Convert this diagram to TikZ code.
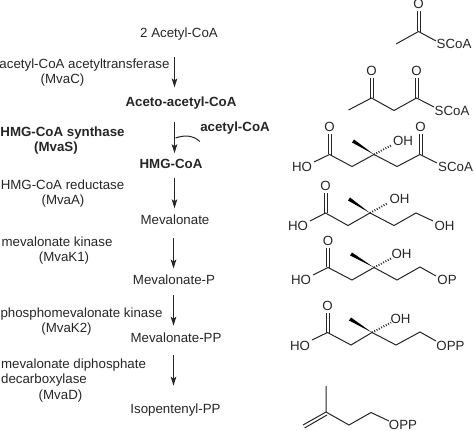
\documentclass[tikz,border=0pt]{standalone}
\usepackage{fontspec}
\setmainfont{Liberation Sans}
\usepackage{tikz}
\usetikzlibrary{positioning, arrows.meta}

\begin{document}
\begin{tikzpicture}[
        x=0.5pt, y=-0.5pt,
        met/.style={inner sep=0pt, text height=5.5pt, text depth=1.5pt, text=black!85, font=\fontsize{6.65}{8}\selectfont},
        metb/.style={met, font=\fontsize{6.65}{8}\selectfont\bfseries},
        enz/.style={met},
        enzb/.style={metb},
        atom/.style={met},
        bond/.style={line width=0.5pt, black!85},
        arrow/.style={-{Stealth[length=4.5pt, width=2.8pt, inset=1pt]}, line width=0.5pt, black!85},
        wedge/.style={fill=black, draw=none},
        hash/.style={line width=1pt, black!85, dash pattern=on 0.45pt off 0.85pt}
    ]
    \useasboundingbox (0,0) rectangle (474,431);

    % Metabolites down the middle
    \node[met] (m0) at (179,33.5) {2 Acetyl-CoA};
    \node[metb, below=27.25pt of m0, xshift=1pt] (m1) {Aceto-acetyl-CoA};
    \node[metb, below=23.5pt of m1, xshift=-5pt] (m2) {HMG-CoA};
    \node[met, below=20.65pt of m2, xshift=2pt] (m3) {Mevalonate};
    \node[met, below=22.7pt of m3, xshift=-0.5pt] (m4) {Mevalonate-P};
    \node[met, below=21.5pt of m4, xshift=1pt] (m5) {Mevalonate-PP};
    \node[met, below=27.8pt of m5, xshift=-0.25pt] (m6) {Isopentenyl-PP};
    \node[metb] (cofac) at (235,127.5) {acetyl-CoA};

    % Enzymes on the left
    \node[enz] (e1) at (84.5,64.5) {acetyl-CoA acetyltransferase};
    \node[enz, below=0.25pt of e1, xshift=-11pt] (e1b) {(MvaC)};
    \node[enzb] (e2) at (62.5,132.5) {HMG-CoA synthase};
    \node[enzb, below=0.25pt of e2, xshift=-3.25pt] (e2b) {(MvaS)};
    \node[enz] (e3) at (62.5,186) {HMG-CoA reductase};
    \node[enz, below=0pt of e3, xshift=0.25pt] (e3b) {(MvaA)};
    \node[enz] (e4) at (57,242.7) {mevalonate kinase};
    \node[enz, below=0.25pt of e4, xshift=3.5pt] (e4b) {(MvaK1)};
    \node[enz] (e5) at (81.5,313) {phosphomevalonate kinase};
    \node[enz, below=0.5pt of e5, xshift=-7.5pt] (e5b) {(MvaK2)};
    \node[enz] (e6) at (73.5,364.3) {mevalonate diphosphate};
    \node[enz, below=0.35pt of e6, xshift=-14.75pt] (e6b) {decarboxylase};
    \node[enz, below=0.5pt of e6b, xshift=8.25pt] (e6c) {(MvaD)};

    % Pathway arrows
    \coordinate (axisa) at (174.5,0);
    \coordinate (axisb) at (173.5,0);
    \draw[arrow, shorten <=8.25pt, shorten >=4pt] (m0.south -| axisa) -- (m1.north -| axisa);
    \draw[arrow, shorten <=6pt, shorten >=2pt] (m1.south -| axisa) -- (m2.north -| axisa);
    \draw[arrow, shorten <=3pt, shorten >=2.5pt] (m2.south -| axisa) -- (m3.north -| axisa);
    \draw[arrow, shorten <=5pt, shorten >=2.5pt] (m3.south -| axisb) -- (m4.north -| axisb);
    \draw[arrow, shorten <=3.5pt, shorten >=2.8pt] (m4.south -| axisb) -- (m5.north -| axisb);
    \draw[arrow, shorten <=4.5pt, shorten >=8pt] (m5.south -| axisb) -- (m6.north -| axisb);
    \coordinate (join) at (175.5,138);
    \draw[bond] ([yshift=-3.3pt]cofac.south west) .. controls (193,135) and (184,135) .. (join);

    % Acetyl-CoA
    \node[atom] (s1o) at (418.5,5) {O};
    \node[atom] (s1s) at (454,44.5) {SCoA};
    \draw[bond] (396,44) -- (418.5,31.5) -- (436,41);
    \draw[bond] (417,31.5) -- (417,11.5) (420,32) -- (420,11.5);

    % Aceto-acetyl-CoA
    \node[atom] (s2o) at (371.5,71.5) {O};
    \node[atom] (s2p) at (416.5,71.5) {O};
    \node[atom] (s2s) at (452,111.5) {SCoA};
    \draw[bond] (348.5,110) -- (371.5,98) -- (394,110.5) -- (416.5,98) -- (434,107);
    \draw[bond] (370,98) -- (370,78) (373,98.5) -- (373,78);
    \draw[bond] (415,98) -- (415,78) (418,98.5) -- (418,78);

    % HMG-CoA
    \node[atom] (s3o) at (329.5,128) {O};
    \node[atom] (s3p) at (420.5,128) {O};
    \node[atom] (s3h) at (302,168) {HO};
    \node[atom] (s3r) at (403,141.5) {OH};
    \node[atom] (s3s) at (455.5,168) {SCoA};
    \draw[bond] (314,162) -- (329.5,154.5) -- (352,166.5) -- (374,154.5) -- (397,166.5) -- (420,154.5) -- (437,163);
    \draw[bond] (328,154.5) -- (328,134.5) (331,155) -- (331,134.5);
    \draw[bond] (419,154.5) -- (419,134.5) (422,155) -- (422,134.5);
    \fill[wedge] (374,154.5) -- (354,139.5) -- (352,142.5) -- cycle;
    \draw[hash] (374,154.5) -- (392,145);

    % Mevalonate
    \node[atom] (s4o) at (325.5,187) {O};
    \node[atom] (s4h) at (298,226.5) {HO};
    \node[atom] (s4r) at (399.5,200) {OH};
    \node[atom] (s4t) at (444.5,226.5) {OH};
    \draw[bond] (310,221) -- (325.5,213) -- (348,225.5) -- (370,213) -- (394,225.5) -- (416,213) -- (433,221);
    \draw[bond] (324,213) -- (324,193.5) (327,213.5) -- (327,193.5);
    \fill[wedge] (370,213) -- (350,197.5) -- (348,200.5) -- cycle;
    \draw[hash] (370,213) -- (388,203);

    % Mevalonate-P
    \node[atom] (s5o) at (328,241.5) {O};
    \node[atom] (s5h) at (301,281) {HO};
    \node[atom] (s5r) at (401.5,254.5) {OH};
    \node[atom] (s5t) at (447,280.5) {OP};
    \draw[bond] (313,275) -- (328,267.5) -- (352,280) -- (374,267.5) -- (397,280) -- (420,267) -- (436,276);
    \draw[bond] (326.5,267.5) -- (326.5,248) (329.5,268) -- (329.5,248);
    \fill[wedge] (374,267.5) -- (352,252.5) -- (350,255.5) -- cycle;
    \draw[hash] (374,267.5) -- (392,258);

    % Mevalonate-PP
    \node[atom] (s6o) at (327.5,306.5) {O};
    \node[atom] (s6h) at (300,346) {HO};
    \node[atom] (s6r) at (400.5,319.5) {OH};
    \node[atom] (s6t) at (450.5,346) {OPP};
    \draw[bond] (312,340) -- (327.5,332.5) -- (351,345) -- (372,332.5) -- (396,345) -- (420,332) -- (436,341);
    \draw[bond] (326,332.5) -- (326,313) (329,333) -- (329,313);
    \fill[wedge] (372,332.5) -- (351,317.5) -- (349,320.5) -- cycle;
    \draw[hash] (372,332.5) -- (391,322.5);

    % Isopentenyl-PP
    \node[atom] (s7t) at (403,425.5) {OPP};
    \draw[bond] (326,386) -- (326,412) -- (349,425) -- (371,412.5) -- (389,421);
    \draw[bond] (326,412) -- (303,425) (327,415) -- (304.5,428);

\end{tikzpicture}
\end{document}
